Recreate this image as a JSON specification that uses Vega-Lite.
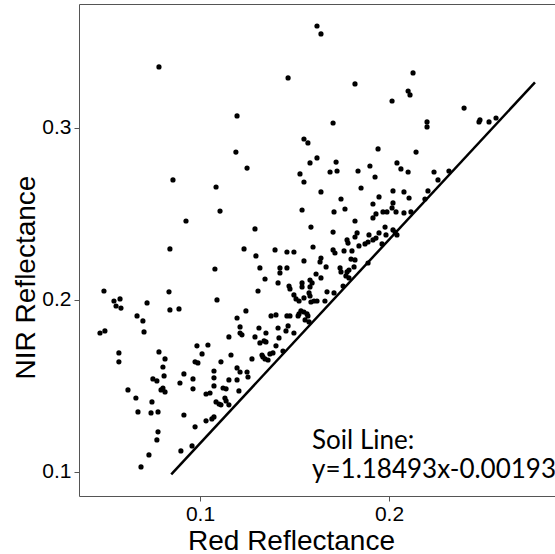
{
  "$schema": "https://vega.github.io/schema/vega-lite/v6.json",
  "width": 476,
  "height": 492,
  "autosize": "none",
  "padding": {"left": 79, "top": 4, "right": 0, "bottom": 58},
  "background": "white",
  "config": {
    "view": {"stroke": "#555555", "strokeWidth": 1},
    "axis": {
      "domain": false,
      "grid": false,
      "tickColor": "#555555",
      "tickSize": 5,
      "labelFont": "Liberation Sans",
      "labelFontSize": 21,
      "labelColor": "#000000",
      "titleFont": "Liberation Sans",
      "titleFontSize": 28,
      "titleFontWeight": "normal",
      "titleColor": "#000000"
    }
  },
  "datasets": {
    "pts": [
      {"red":0.0783,"nir":0.3355},{"red":0.1196,"nir":0.3070},{"red":0.1190,"nir":0.2860},{"red":0.1619,"nir":0.3593},{"red":0.1640,"nir":0.3547},{"red":0.1466,"nir":0.3291},{"red":0.1820,"nir":0.3256},{"red":0.2016,"nir":0.3157},{"red":0.1704,"nir":0.3029},{"red":0.1550,"nir":0.2936},{"red":0.1571,"nir":0.2913},{"red":0.1942,"nir":0.2878},{"red":0.1619,"nir":0.2826},{"red":0.1582,"nir":0.2797},{"red":0.1720,"nir":0.2802},{"red":0.1899,"nir":0.2779},{"red":0.1249,"nir":0.2767},{"red":0.2127,"nir":0.3320},{"red":0.2101,"nir":0.3215},{"red":0.2111,"nir":0.3192},{"red":0.2397,"nir":0.3116},{"red":0.2481,"nir":0.3047},{"red":0.2476,"nir":0.3035},{"red":0.2529,"nir":0.3035},{"red":0.2566,"nir":0.3058},{"red":0.2201,"nir":0.3035},{"red":0.2201,"nir":0.3006},{"red":0.2143,"nir":0.2860},{"red":0.2042,"nir":0.2797},{"red":0.2063,"nir":0.2762},
      {"red":0.1529,"nir":0.2733},{"red":0.1550,"nir":0.2686},{"red":0.1688,"nir":0.2744},{"red":0.1725,"nir":0.2750},{"red":0.1836,"nir":0.2750},{"red":0.2101,"nir":0.2744},{"red":0.2238,"nir":0.2744},{"red":0.2259,"nir":0.2698},{"red":0.2317,"nir":0.2750},{"red":0.1926,"nir":0.2715},{"red":0.1852,"nir":0.2651},{"red":0.1640,"nir":0.2628},{"red":0.2021,"nir":0.2634},{"red":0.2079,"nir":0.2628},{"red":0.2106,"nir":0.2593},{"red":0.2206,"nir":0.2634},{"red":0.2190,"nir":0.2587},{"red":0.1947,"nir":0.2599},{"red":0.1746,"nir":0.2587},{"red":0.1915,"nir":0.2558},{"red":0.2021,"nir":0.2564},{"red":0.2016,"nir":0.2535},{"red":0.2037,"nir":0.2512},{"red":0.2079,"nir":0.2506},{"red":0.1767,"nir":0.2529},{"red":0.1540,"nir":0.2523},{"red":0.1709,"nir":0.2512},{"red":0.1968,"nir":0.2512},{"red":0.1989,"nir":0.2512},{"red":0.1931,"nir":0.2500},{"red":0.1915,"nir":0.2477},{"red":0.2116,"nir":0.2512},{"red":0.1820,"nir":0.2459},{"red":0.1587,"nir":0.2424},{"red":0.1291,"nir":0.2413},{"red":0.1704,"nir":0.2395},{"red":0.1979,"nir":0.2424},{"red":0.2021,"nir":0.2407},{"red":0.2032,"nir":0.2395},{"red":0.2042,"nir":0.2378},{"red":0.1947,"nir":0.2390},{"red":0.1931,"nir":0.2360},{"red":0.1915,"nir":0.2349},{"red":0.1889,"nir":0.2337},{"red":0.1873,"nir":0.2326},{"red":0.1831,"nir":0.2390},{"red":0.1820,"nir":0.2366},{"red":0.1894,"nir":0.2378},{"red":0.1778,"nir":0.2349},{"red":0.1783,"nir":0.2331},{"red":0.1841,"nir":0.2314},{"red":0.1963,"nir":0.2326},{"red":0.1984,"nir":0.2378},{"red":0.1598,"nir":0.2308},{"red":0.1704,"nir":0.2291},{"red":0.1714,"nir":0.2273},{"red":0.1762,"nir":0.2285},{"red":0.1804,"nir":0.2285},{"red":0.1397,"nir":0.2291},{"red":0.1460,"nir":0.2279},{"red":0.1497,"nir":0.2279},{"red":0.1296,"nir":0.2256},{"red":0.1640,"nir":0.2244},{"red":0.1635,"nir":0.2221},{"red":0.1799,"nir":0.2238},{"red":0.1820,"nir":0.2233},{"red":0.1550,"nir":0.2227},{"red":0.1889,"nir":0.2215},{"red":0.1317,"nir":0.2186},{"red":0.1423,"nir":0.2186},{"red":0.1460,"nir":0.2186},{"red":0.1423,"nir":0.2157},{"red":0.1667,"nir":0.2192},{"red":0.1741,"nir":0.2186},{"red":0.1746,"nir":0.2163},{"red":0.1778,"nir":0.2163},{"red":0.1788,"nir":0.2174},{"red":0.1815,"nir":0.2192},{"red":0.1614,"nir":0.2151},{"red":0.1640,"nir":0.2128},{"red":0.1582,"nir":0.2116},{"red":0.1593,"nir":0.2099},{"red":0.1772,"nir":0.2140},{"red":0.1788,"nir":0.2128},{"red":0.1344,"nir":0.2122},{"red":0.1413,"nir":0.2099},{"red":0.1471,"nir":0.2081},{"red":0.1476,"nir":0.2064},{"red":0.1540,"nir":0.2099},{"red":0.1540,"nir":0.2076},{"red":0.1582,"nir":0.2076},{"red":0.1672,"nir":0.2047},{"red":0.1709,"nir":0.2041},{"red":0.1307,"nir":0.2052},{"red":0.1757,"nir":0.2081},{"red":0.1497,"nir":0.2029},{"red":0.1508,"nir":0.2006},{"red":0.1524,"nir":0.1994},{"red":0.1550,"nir":0.2012},{"red":0.1577,"nir":0.2041},{"red":0.1582,"nir":0.2023},{"red":0.1587,"nir":0.1988},{"red":0.1603,"nir":0.1994},{"red":0.1619,"nir":0.1994},{"red":0.1661,"nir":0.1994},{"red":0.1376,"nir":0.1907},{"red":0.1402,"nir":0.1913},{"red":0.1460,"nir":0.1907},{"red":0.1476,"nir":0.1907},{"red":0.1524,"nir":0.1919},{"red":0.1534,"nir":0.1936},{"red":0.1550,"nir":0.1930},{"red":0.1566,"nir":0.1919},{"red":0.1571,"nir":0.1907},{"red":0.1519,"nir":0.1907},{"red":0.1556,"nir":0.1884},{"red":0.1577,"nir":0.1872},{"red":0.1312,"nir":0.1837},{"red":0.1413,"nir":0.1837},{"red":0.1466,"nir":0.1849},{"red":0.1455,"nir":0.1820},{"red":0.1497,"nir":0.1808},{"red":0.1349,"nir":0.1808},{"red":0.1418,"nir":0.1779},{"red":0.1291,"nir":0.1785},{"red":0.1233,"nir":0.2297},{"red":0.1243,"nir":0.1936},{"red":0.1212,"nir":0.1843},{"red":0.1212,"nir":0.1808},{"red":0.1222,"nir":0.1797},
      {"red":0.0857,"nir":0.2698},{"red":0.1085,"nir":0.2657},{"red":0.1106,"nir":0.2517},{"red":0.0926,"nir":0.2459},{"red":0.0841,"nir":0.2297},{"red":0.1079,"nir":0.2180},{"red":0.0492,"nir":0.2052},{"red":0.0836,"nir":0.2047},{"red":0.0545,"nir":0.1994},{"red":0.0577,"nir":0.2006},{"red":0.0556,"nir":0.1965},{"red":0.0582,"nir":0.1953},{"red":0.0720,"nir":0.1983},{"red":0.1090,"nir":0.2000},{"red":0.0841,"nir":0.1942},{"red":0.0889,"nir":0.1948},{"red":0.0667,"nir":0.1907},{"red":0.0698,"nir":0.1878},{"red":0.1196,"nir":0.1895},{"red":0.0471,"nir":0.1808},{"red":0.0497,"nir":0.1820},{"red":0.0704,"nir":0.1814},
      {"red":0.1153,"nir":0.1785},{"red":0.0984,"nir":0.1733},{"red":0.1042,"nir":0.1738},{"red":0.0571,"nir":0.1692},{"red":0.0783,"nir":0.1698},{"red":0.1011,"nir":0.1686},{"red":0.1164,"nir":0.1680},{"red":0.0815,"nir":0.1657},{"red":0.0571,"nir":0.1640},{"red":0.0974,"nir":0.1640},{"red":0.0989,"nir":0.1634},{"red":0.1111,"nir":0.1640},{"red":0.0804,"nir":0.1610},{"red":0.1196,"nir":0.1605},{"red":0.0810,"nir":0.1558},{"red":0.0915,"nir":0.1570},{"red":0.1074,"nir":0.1587},{"red":0.0751,"nir":0.1541},{"red":0.0772,"nir":0.1529},{"red":0.0894,"nir":0.1517},{"red":0.0963,"nir":0.1541},{"red":0.1074,"nir":0.1547},{"red":0.1153,"nir":0.1535},{"red":0.1196,"nir":0.1535},{"red":0.1074,"nir":0.1500},{"red":0.0804,"nir":0.1488},{"red":0.0794,"nir":0.1477},{"red":0.0815,"nir":0.1465},{"red":0.0619,"nir":0.1477},{"red":0.0963,"nir":0.1483},{"red":0.1122,"nir":0.1488},{"red":0.1138,"nir":0.1483},{"red":0.1032,"nir":0.1453},{"red":0.1053,"nir":0.1459},{"red":0.0661,"nir":0.1430},{"red":0.0746,"nir":0.1407},{"red":0.1132,"nir":0.1430},{"red":0.1138,"nir":0.1413},{"red":0.1085,"nir":0.1407},{"red":0.1101,"nir":0.1395},{"red":0.1111,"nir":0.1390},{"red":0.1153,"nir":0.1390},{"red":0.0672,"nir":0.1349},{"red":0.0741,"nir":0.1343},{"red":0.0778,"nir":0.1349},{"red":0.0915,"nir":0.1331},{"red":0.1063,"nir":0.1308},{"red":0.1074,"nir":0.1320},{"red":0.1032,"nir":0.1297},{"red":0.0974,"nir":0.1262},{"red":0.0778,"nir":0.1233},{"red":0.0772,"nir":0.1186},{"red":0.0958,"nir":0.1151},{"red":0.0899,"nir":0.1122},{"red":0.0730,"nir":0.1099},{"red":0.0688,"nir":0.1029},
      {"red":0.1339,"nir":0.1762},{"red":0.1349,"nir":0.1756},{"red":0.1317,"nir":0.1750},{"red":0.1402,"nir":0.1733},{"red":0.1439,"nir":0.1703},{"red":0.1275,"nir":0.1657},{"red":0.1328,"nir":0.1680},{"red":0.1333,"nir":0.1669},{"red":0.1344,"nir":0.1657},{"red":0.1360,"nir":0.1651},{"red":0.1386,"nir":0.1692},{"red":0.1370,"nir":0.1686},{"red":0.1249,"nir":0.1581},{"red":0.1254,"nir":0.1552},{"red":0.1212,"nir":0.1581},{"red":0.1206,"nir":0.1471}
    ],
    "soil": [
      {"red": 0.0848, "nir": 0.09855},
      {"red": 0.2772, "nir": 0.32653}
    ],
    "ann": [
      {"red": 0.1593, "nir": 0.1134, "label": "Soil Line:"},
      {"red": 0.1593, "nir": 0.0965, "label": "y=1.18493x-0.00193"}
    ]
  },
  "encoding": {
    "x": {
      "field": "red",
      "type": "quantitative",
      "scale": {"domain": [0.036, 0.2878], "nice": false, "zero": false},
      "axis": {
        "title": "Red Reflectance",
        "values": [0.1, 0.2],
        "format": ".1f",
        "labelPadding": 2,
        "titleX": 212,
        "titleY": 53,
        "titleBaseline": "alphabetic",
        "titleAnchor": null,
        "titleAlign": "center"
      }
    },
    "y": {
      "field": "nir",
      "type": "quantitative",
      "scale": {"domain": [0.086, 0.3721], "nice": false, "zero": false},
      "axis": {
        "title": "NIR Reflectance",
        "values": [0.1, 0.2, 0.3],
        "format": ".1f",
        "labelPadding": 3,
        "titleX": -45,
        "titleY": 273,
        "titleAngle": 270,
        "titleBaseline": "alphabetic",
        "titleAlign": "center"
      }
    }
  },
  "layer": [
    {
      "data": {"name": "pts"},
      "mark": {"type": "circle", "size": 27, "color": "#000000", "opacity": 1}
    },
    {
      "data": {"name": "soil"},
      "mark": {"type": "line", "color": "#000000", "strokeWidth": 2.5}
    },
    {
      "data": {"name": "ann"},
      "mark": {"type": "text", "font": "Lato", "fontSize": 26, "align": "left", "baseline": "alphabetic", "color": "#000000"},
      "encoding": {"text": {"field": "label"}}
    }
  ]
}
